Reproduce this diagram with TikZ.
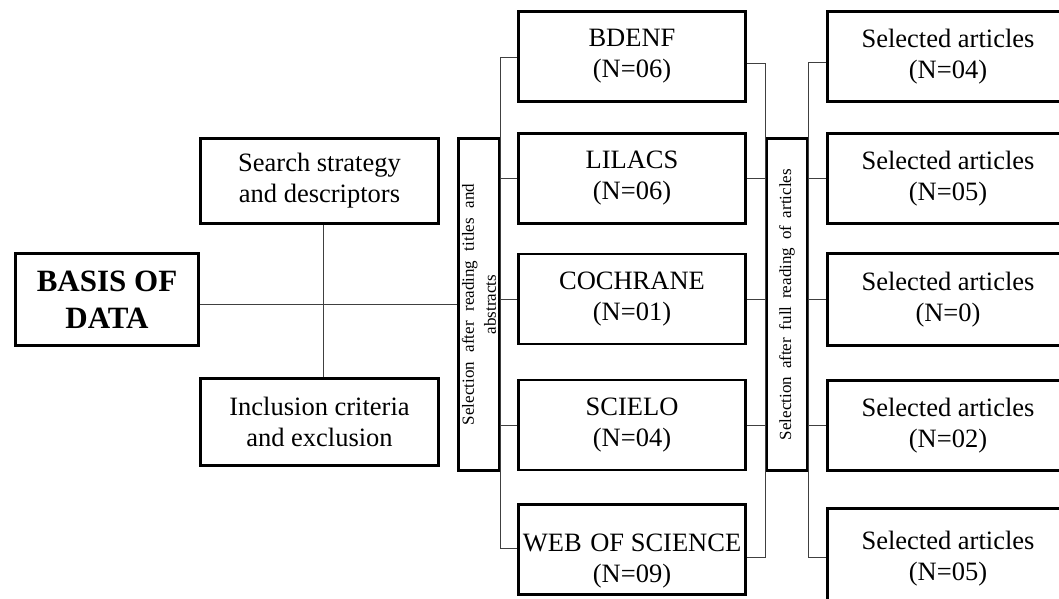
\documentclass[tikz,border=0pt]{standalone}
\usepackage{fontspec}
\setmainfont{Liberation Serif}
\usepackage{graphicx}
\tikzset{
  frame/.style={draw, line width=2.8pt, inner sep=0pt, align=center,
    font=\fontsize{26.5}{31}\selectfont},
  dbbox/.style={frame, minimum width=227pt, minimum height=90pt},
  artbox/.style={frame, minimum width=241pt, minimum height=90pt},
  selbox/.style={frame, minimum width=41pt, minimum height=332pt},
  link/.style={draw=black!75, line width=0.9pt},
  plain/.style={inner sep=0pt, align=center, font=\fontsize{26.5}{31}\selectfont}
}
\begin{document}
\begin{tikzpicture}[x=1pt,y=-1pt]
\useasboundingbox (0,0) rectangle (1059,598);
\clip (0,0) rectangle (1059,598);
\fill[white] (0,0) rectangle (1059,598);

% left part
\node[frame, minimum width=183pt, minimum height=92pt,
      font=\fontsize{31}{37}\selectfont\bfseries] (basis) at (107,299.5) {BASIS OF\\DATA};
\node[frame, minimum width=238pt, minimum height=85pt] (search) at (319.5,181) {Search strategy\\and descriptors};
\node[frame, minimum width=238pt, minimum height=87pt] (incl) at (319.5,422) {Inclusion criteria\\and exclusion};

% first selection
\node[selbox] (sel1) at (479,304.5) {\rotatebox{90}{\begin{minipage}{241pt}\fontsize{17}{22}\selectfont
  \makebox[241pt][s]{Selection after reading titles and}\par
  \makebox[241pt]{abstracts}\end{minipage}}};

% databases
\node[dbbox] (bdenf) at (632,56.5) {BDENF\\(N=06)};
\node[dbbox] (lilacs) at (632,178.5) {LILACS\\(N=06)};
\node[dbbox] (cochrane) at (632,299) {COCHRANE\\(N=01)};
\node[dbbox] (scielo) at (632,425) {SCIELO\\(N=04)};
\node[dbbox] (web) at (632,549.5) {};
\node[plain] (webtext) at ([yshift=-11.5pt]web.center) {WEB\hspace{2pt} OF SCIENCE\\(N=09)};

% second selection
\node[selbox] (sel2) at (787,304.5) {\rotatebox{90}{{\fontsize{17}{22}\selectfont
  \makebox[271pt][s]{Selection after full reading of articles}}}};

% selected articles
\node[artbox] (a1) at (948,56.5) {Selected articles\\(N=04)};
\node[artbox] (a2) at (948,178.5) {Selected articles\\(N=05)};
\node[artbox, minimum height=92pt] (a3) at (948,299.5) {Selected articles\\(N=0)};
\node[artbox] (a4) at (948,425.5) {Selected articles\\(N=02)};
\node[artbox, minimum height=100pt] (a5) at (948,558.5) {Selected articles\\(N=05)};

% connectors left
\draw[link] (basis.east |- sel1.west) -- (sel1.west);
\draw[link] ([xshift=3.5pt]search.south) -- ([xshift=3.5pt]incl.north);

% sel1 to databases
\coordinate (l1) at ([yshift=-0.5pt]bdenf.west);
\coordinate (l5) at ([yshift=1.5pt]web.west);
\draw[link] (l1) -- (l1 -| sel1.east) -- (l5 -| sel1.east) -- (l5);
\draw[link] (lilacs.west) -- (lilacs.west -| sel1.east);
\draw[link] (cochrane.west) -- (cochrane.west -| sel1.east);
\draw[link] (scielo.west) -- (scielo.west -| sel1.east);

% databases to sel2
\coordinate (r1) at ([yshift=-6.5pt]bdenf.east);
\coordinate (r5) at ([yshift=-7.5pt]web.east);
\draw[link] (r1) -- (r1 -| sel2.west) -- (r5 -| sel2.west) -- (r5);
\draw[link] (lilacs.east) -- (lilacs.east -| sel2.west);
\draw[link] (cochrane.east) -- (cochrane.east -| sel2.west);
\draw[link] (scielo.east) -- (scielo.east -| sel2.west);

% sel2 to articles
\coordinate (s1) at ([yshift=-5.5pt]a1.west);
\coordinate (s5) at ([yshift=1.5pt]a5.west);
\draw[link] (s1) -- (s1 -| sel2.east) -- (s5 -| sel2.east) -- (s5);
\draw[link] (a2.west) -- (a2.west -| sel2.east);
\draw[link] (a3.west) -- (a3.west -| sel2.east);
\draw[link] (a4.west) -- (a4.west -| sel2.east);
\end{tikzpicture}
\end{document}
